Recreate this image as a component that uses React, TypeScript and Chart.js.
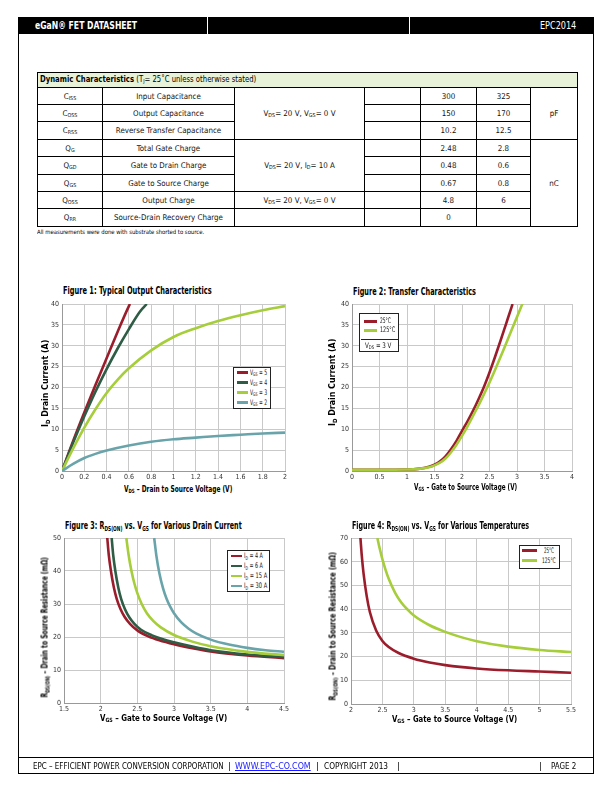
import React, { useEffect, useLayoutEffect, useRef } from "react";
import { Chart, registerables } from "chart.js";
Chart.register(...registerables);

const FONT = "'Liberation Sans Narrow','DejaVu Sans Condensed','Roboto Condensed','Liberation Sans',Arial,sans-serif";
const RED = "#9b1d2c";
const DKGREEN = "#2e5c45";
const LTGREEN = "#a6cd3a";
const TEAL = "#6aa4ab";
const GRID = "#c9c9c9";

// ---------- Table data ----------
const TABLE_SYMBOLS = [["C", "ISS"], ["C", "OSS"], ["C", "RSS"], ["Q", "G"], ["Q", "GD"], ["Q", "GS"], ["Q", "OSS"], ["Q", "RR"]];
const TABLE_PARAMS = ["Input Capacitance", "Output Capacitance", "Reverse Transfer Capacitance", "Total Gate Charge", "Gate to Drain Charge", "Gate to Source Charge", "Output Charge", "Source-Drain Recovery Charge"];
const TABLE_TYP = ["300", "150", "10.2", "2.48", "0.48", "0.67", "4.8", "0"];
const TABLE_MAX = ["325", "170", "12.5", "2.8", "0.6", "0.8", "6", ""];

// ---------- Figure 1: Typical Output Characteristics ----------
const F1_VGS5_VDS = [0, 0.1, 0.2, 0.3, 0.4, 0.5, 0.6, 0.61];
const F1_VGS5_ID = [0, 7.2, 14, 20.6, 27, 33.4, 39.5, 40];
const F1_VGS4_VDS = [0, 0.1, 0.2, 0.3, 0.4, 0.5, 0.6, 0.7, 0.76];
const F1_VGS4_ID = [0, 6.8, 13.1, 19, 24.4, 29.4, 34, 38.2, 40];
const F1_VGS3_VDS = [0, 0.1, 0.2, 0.3, 0.4, 0.5, 0.6, 0.8, 1.0, 1.2, 1.4, 1.6, 1.8, 2.0];
const F1_VGS3_ID = [0, 5.4, 10.4, 14.8, 18.7, 21.9, 24.6, 28.9, 32.1, 34.2, 35.9, 37.3, 38.5, 39.5];
const F1_VGS2_VDS = [0, 0.1, 0.2, 0.3, 0.4, 0.6, 0.8, 1.0, 1.2, 1.4, 1.6, 1.8, 2.0];
const F1_VGS2_ID = [0, 1.7, 3.1, 4.1, 4.9, 6.1, 7.0, 7.6, 8.0, 8.4, 8.7, 9.0, 9.2];

// ---------- Figure 2: Transfer Characteristics ----------
const F2_25C_VGS = [0, 0.5, 1.0, 1.2, 1.4, 1.5, 1.6, 1.7, 1.8, 1.9, 2.0, 2.1, 2.2, 2.3, 2.4, 2.5, 2.6, 2.7, 2.8, 2.9, 2.92];
const F2_25C_ID = [0.3, 0.3, 0.35, 0.5, 1.0, 1.5, 2.3, 3.5, 5.2, 7.2, 9.6, 11.9, 14.4, 17.2, 20.2, 23.6, 27.3, 31.2, 35.2, 39.2, 40];
const F2_125C_VGS = [0, 0.5, 1.0, 1.2, 1.4, 1.5, 1.6, 1.7, 1.8, 1.9, 2.0, 2.1, 2.2, 2.3, 2.4, 2.5, 2.6, 2.7, 2.8, 2.9, 3.0, 3.1];
const F2_125C_ID = [0.3, 0.3, 0.35, 0.5, 0.9, 1.35, 2.0, 3.0, 4.5, 6.3, 8.4, 10.7, 13.2, 15.7, 18.4, 21.2, 24.2, 27.3, 30.5, 33.7, 36.9, 40.1];

// ---------- Figure 3: RDS(ON) vs VGS for various drain current ----------
const F3_4A_VGS = [2.09, 2.11, 2.14, 2.18, 2.22, 2.27, 2.33, 2.4, 2.5, 2.65, 2.8, 3.0, 3.25, 3.5, 4.0, 4.5];
const F3_4A_R = [50, 45, 40, 35, 31.5, 28.5, 26, 24, 22, 20.2, 19, 17.8, 16.6, 15.6, 14.4, 13.6];
const F3_6A_VGS = [2.15, 2.17, 2.2, 2.24, 2.28, 2.33, 2.39, 2.46, 2.55, 2.7, 2.85, 3.0, 3.25, 3.5, 4.0, 4.5];
const F3_6A_R = [50, 45, 40, 35, 31.5, 28.5, 26, 24, 22.2, 20.5, 19.3, 18.4, 17.1, 16, 14.7, 13.9];
const F3_15A_VGS = [2.35, 2.38, 2.42, 2.46, 2.5, 2.56, 2.63, 2.72, 2.82, 3.0, 3.25, 3.5, 4.0, 4.5];
const F3_15A_R = [50, 45, 40, 36.2, 33.3, 30, 27.2, 24.8, 22.9, 20.6, 18.6, 17.2, 15.5, 14.5];
const F3_30A_VGS = [2.73, 2.76, 2.8, 2.85, 2.9, 2.95, 3.0, 3.1, 3.2, 3.3, 3.5, 3.75, 4.0, 4.25, 4.5];
const F3_30A_R = [50, 44.6, 39.4, 34.8, 31.5, 29.1, 27.2, 24.4, 22.5, 21.1, 19.2, 17.7, 16.7, 16.0, 15.5];

// ---------- Figure 4: RDS(ON) vs VGS for various temperatures ----------
const F4_25C_VGS = [2.15, 2.17, 2.2, 2.25, 2.3, 2.4, 2.5, 2.6, 2.75, 3.0, 3.25, 3.5, 4.0, 4.5, 5.0, 5.5];
const F4_25C_R = [70, 63, 55, 45.5, 38.8, 31, 26.6, 24, 21.6, 19.1, 17.5, 16.4, 15, 14.2, 13.7, 13.2];
const F4_125C_VGS = [2.42, 2.45, 2.5, 2.55, 2.6, 2.7, 2.8, 2.9, 3.0, 3.25, 3.5, 3.75, 4.0, 4.5, 5.0, 5.5];
const F4_125C_R = [70, 66.3, 61, 56.6, 52.8, 47, 42.8, 39.8, 37.3, 33.2, 30.4, 28.2, 26.5, 24.2, 22.8, 21.9];

type Series = { xs: number[]; ys: number[]; color: string };

const fmt = (v: any) => String(Math.round(Number(v) * 100) / 100);

function PlotChart(props: {
  left: number; top: number; width: number; height: number;
  xMin: number; xMax: number; xStep: number;
  yMin: number; yMax: number; yStep: number;
  series: Series[];
}) {
  const { left, top, width, height, xMin, xMax, xStep, yMin, yMax, yStep, series } = props;
  const ref = useRef<HTMLCanvasElement>(null);
  const padL = 26, padT = 8, padR = 10, padB = 13;
  const cw = width + padL + padR;
  const ch = height + padT + padB;
  useEffect(() => {
    const chart = new Chart(ref.current as HTMLCanvasElement, {
      type: "line",
      data: {
        datasets: series.map((s) => ({
          data: s.xs.map((x, i) => ({ x, y: s.ys[i] })),
          borderColor: s.color,
          backgroundColor: s.color,
          borderWidth: 2.6,
          pointRadius: 0,
          cubicInterpolationMode: "monotone" as const,
          fill: false,
        })),
      },
      options: {
        animation: false,
        responsive: false,
        maintainAspectRatio: false,
        devicePixelRatio: 1,
        layout: { padding: { top: padT, right: padR, left: 0, bottom: 0 } },
        plugins: { legend: { display: false }, tooltip: { enabled: false }, title: { display: false } },
        scales: {
          x: {
            type: "linear", min: xMin, max: xMax,
            ticks: { stepSize: xStep, font: { family: FONT, size: 7 }, color: "#333", padding: 2, maxRotation: 0, autoSkip: false, callback: fmt },
            grid: { color: GRID, drawTicks: false, lineWidth: 1 },
            border: { color: "#999" },
            afterFit: (s: any) => { s.height = padB; },
          },
          y: {
            type: "linear", min: yMin, max: yMax,
            ticks: { stepSize: yStep, font: { family: FONT, size: 7 }, color: "#333", padding: 3, autoSkip: false, callback: fmt },
            grid: { color: GRID, drawTicks: false, lineWidth: 1 },
            border: { color: "#999" },
            afterFit: (s: any) => { s.width = padL; },
          },
        },
      } as any,
    });
    return () => chart.destroy();
  }, []);
  return (
    <canvas
      ref={ref}
      width={cw}
      height={ch}
      style={{ position: "absolute", left: left - padL, top: top - padT, width: cw, height: ch }}
    />
  );
}

function Fit(props: { w: number; left: number; top: number; size: number; bold?: boolean; rotate?: boolean; color?: string; children: any }) {
  const { w, left, top, size, bold, rotate, color, children } = props;
  const ref = useRef<HTMLSpanElement>(null);
  useLayoutEffect(() => {
    const el = ref.current;
    if (!el) return;
    const sw = el.offsetWidth;
    if (sw > 0) el.style.transform = `scaleX(${w / sw})`;
  });
  const lh = Math.round(size * 1.25);
  const style: any = {
    position: "absolute",
    width: w,
    height: lh,
    lineHeight: lh + "px",
    fontSize: size,
    fontWeight: bold ? 700 : 400,
    whiteSpace: "nowrap",
    color: color || "#000",
    fontFamily: FONT,
  };
  if (rotate) {
    style.left = left - w / 2;
    style.top = top - lh / 2;
    style.transform = "rotate(-90deg)";
    style.transformOrigin = "center center";
  } else {
    style.left = left;
    style.top = top - lh / 2;
  }
  return (
    <div style={style}>
      <span ref={ref} style={{ display: "inline-block", transformOrigin: "left center" }}>{children}</span>
    </div>
  );
}

const Sub = (p: { children: any }) => (
  <span style={{ fontSize: "0.68em", position: "relative", top: "0.3em" }}>{p.children}</span>
);

function LegendLine(p: { x: number; y: number; w: number; color: string }) {
  return <div style={{ position: "absolute", left: p.x, top: p.y - 1.3, width: p.w, height: 2.6, background: p.color }} />;
}

function LegendText(p: { x: number; y: number; w: number; children: any }) {
  return <Fit w={p.w} left={p.x} top={p.y} size={7.6} color="#111">{p.children}</Fit>;
}

function Box(p: { l: number; t: number; w: number; h: number }) {
  return <div style={{ position: "absolute", left: p.l, top: p.t, width: p.w, height: p.h, border: "1px solid #222", boxSizing: "border-box", background: "#fff" }} />;
}

// table grid
const TX = [37, 102, 234, 364, 420, 476, 530, 577];
const TY = [72, 87, 104, 121, 139, 156, 174, 191, 208, 226];

function Cell(p: { c0: number; c1: number; r0: number; r1: number; children?: any; bg?: string; align?: string }) {
  return (
    <div style={{
      position: "absolute", left: TX[p.c0], top: TY[p.r0], width: TX[p.c1] - TX[p.c0] + 1, height: TY[p.r1] - TY[p.r0] + 1,
      border: "1px solid #000", boxSizing: "border-box", background: p.bg || "transparent",
      display: "flex", alignItems: "center", justifyContent: p.align || "center",
      fontSize: 7.9, fontFamily: FONT, whiteSpace: "nowrap", color: "#111",
    }}>{p.children}</div>
  );
}

function DataTable() {
  const cells: any[] = [];
  cells.push(<Cell key="h" c0={0} c1={7} r0={0} r1={1} bg="#e8f2d8" />);
  TABLE_PARAMS.forEach((p, i) => {
    const r = i + 1;
    cells.push(<Cell key={"s" + i} c0={0} c1={1} r0={r} r1={r + 1}>{TABLE_SYMBOLS[i][0]}<Sub>{TABLE_SYMBOLS[i][1]}</Sub></Cell>);
    cells.push(<Cell key={"p" + i} c0={1} c1={2} r0={r} r1={r + 1}>{p}</Cell>);
    cells.push(<Cell key={"m" + i} c0={3} c1={4} r0={r} r1={r + 1} />);
    cells.push(<Cell key={"t" + i} c0={4} c1={5} r0={r} r1={r + 1}>{TABLE_TYP[i]}</Cell>);
    cells.push(<Cell key={"x" + i} c0={5} c1={6} r0={r} r1={r + 1}>{TABLE_MAX[i]}</Cell>);
  });
  cells.push(<Cell key="c1" c0={2} c1={3} r0={1} r1={4}>V<Sub>DS</Sub> = 20 V, V<Sub>GS</Sub> = 0 V</Cell>);
  cells.push(<Cell key="c2" c0={2} c1={3} r0={4} r1={7}>V<Sub>DS</Sub> = 20 V, I<Sub>D</Sub> = 10 A</Cell>);
  cells.push(<Cell key="c3" c0={2} c1={3} r0={7} r1={8}>V<Sub>DS</Sub> = 20 V, V<Sub>GS</Sub> = 0 V</Cell>);
  cells.push(<Cell key="c4" c0={2} c1={3} r0={8} r1={9} />);
  cells.push(<Cell key="u1" c0={6} c1={7} r0={1} r1={4}>pF</Cell>);
  cells.push(<Cell key="u2" c0={6} c1={7} r0={4} r1={9}>nC</Cell>);
  return (
    <>
      {cells}
      <Fit w={216} left={40} top={79.5} size={8}><b>Dynamic Characteristics</b> (T<Sub>J</Sub>= 25˚C unless otherwise stated)</Fit>
    </>
  );
}

export default function App() {
  return (
    <div style={{ position: "absolute", left: 0, top: 0, width: 612, height: 792, background: "#fff", fontFamily: FONT, overflow: "hidden" }}>
      {/* Header */}
      <div style={{ position: "absolute", left: 18, top: 17, width: 576, height: 17, background: "#000" }} />
      <div style={{ position: "absolute", left: 207, top: 17, width: 1, height: 17, background: "#fff" }} />
      <div style={{ position: "absolute", left: 409, top: 17, width: 1, height: 17, background: "#fff" }} />
      <Fit w={102} left={35} top={25.8} size={10.5} bold color="#fff">eGaN® FET DATASHEET</Fit>
      <Fit w={36} left={540} top={25.8} size={10.5} color="#fff">EPC2014</Fit>
      {/* page borders */}
      <div style={{ position: "absolute", left: 18, top: 34, width: 1, height: 739, background: "#000" }} />
      <div style={{ position: "absolute", left: 593, top: 34, width: 1, height: 739, background: "#000" }} />
      <div style={{ position: "absolute", left: 18, top: 757, width: 576, height: 1, background: "#000" }} />
      <div style={{ position: "absolute", left: 18, top: 773, width: 576, height: 1, background: "#000" }} />

      <DataTable />
      <Fit w={167} left={37} top={232} size={6}>All measurements were done with substrate shorted to source.</Fit>

      {/* Figure 1 */}
      <Fit w={149} left={62.7} top={290} size={10} bold>Figure 1: Typical Output Characteristics</Fit>
      <PlotChart left={62} top={304} width={223} height={167} xMin={0} xMax={2} xStep={0.2} yMin={0} yMax={40} yStep={5}
        series={[
          { xs: F1_VGS2_VDS, ys: F1_VGS2_ID, color: TEAL },
          { xs: F1_VGS3_VDS, ys: F1_VGS3_ID, color: LTGREEN },
          { xs: F1_VGS4_VDS, ys: F1_VGS4_ID, color: DKGREEN },
          { xs: F1_VGS5_VDS, ys: F1_VGS5_ID, color: RED },
        ]} />
      <Fit w={87} left={45} top={383} size={8.5} bold rotate>I<Sub>D</Sub> Drain Current (A)</Fit>
      <Fit w={108} left={124} top={489} size={8.5} bold>V<Sub>DS</Sub> – Drain to Source Voltage (V)</Fit>
      <Box l={233.3} t={367.3} w={37.4} h={41.7} />
      <LegendLine x={236.5} y={372.5} w={11} color={RED} />
      <LegendText x={250} y={372.5} w={17.3}>V<Sub>GS</Sub> = 5</LegendText>
      <LegendLine x={236.5} y={382.5} w={11} color={DKGREEN} />
      <LegendText x={250} y={382.5} w={17.3}>V<Sub>GS</Sub> = 4</LegendText>
      <LegendLine x={236.5} y={392.5} w={11} color={LTGREEN} />
      <LegendText x={250} y={392.5} w={17.3}>V<Sub>GS</Sub> = 3</LegendText>
      <LegendLine x={236.5} y={402.5} w={11} color={TEAL} />
      <LegendText x={250} y={402.5} w={17.3}>V<Sub>GS</Sub> = 2</LegendText>

      {/* Figure 2 */}
      <Fit w={123} left={352.7} top={291} size={10} bold>Figure 2: Transfer Characteristics</Fit>
      <PlotChart left={352} top={304} width={220} height={167} xMin={0} xMax={4} xStep={0.5} yMin={0} yMax={40} yStep={5}
        series={[
          { xs: F2_125C_VGS, ys: F2_125C_ID, color: LTGREEN },
          { xs: F2_25C_VGS, ys: F2_25C_ID, color: RED },
        ]} />
      <Fit w={87} left={332.3} top={382} size={8.5} bold rotate>I<Sub>D</Sub> Drain Current (A)</Fit>
      <Fit w={103} left={414} top={487} size={8.5} bold>V<Sub>GS</Sub> – Gate to Source Voltage (V)</Fit>
      <Box l={359.3} t={313.3} w={40} h={39} />
      <LegendLine x={364} y={321.3} w={13} color={RED} />
      <LegendText x={380} y={321.3} w={11}>25°C</LegendText>
      <LegendLine x={364} y={330.3} w={13} color={LTGREEN} />
      <LegendText x={380} y={330.3} w={15}>125°C</LegendText>
      <div style={{ position: "absolute", left: 360.7, top: 338.5, width: 37.5, height: 1, background: "#222" }} />
      <LegendText x={365} y={345.7} w={26}>V<Sub>DS</Sub> = 3 V</LegendText>

      {/* Figure 3 */}
      <Fit w={177} left={65} top={525.5} size={10} bold>Figure 3: R<Sub>DS(ON)</Sub> vs. V<Sub>GS</Sub> for Various Drain Current</Fit>
      <PlotChart left={64} top={538} width={220} height={165} xMin={1.5} xMax={4.5} xStep={0.5} yMin={0} yMax={50} yStep={10}
        series={[
          { xs: F3_30A_VGS, ys: F3_30A_R, color: TEAL },
          { xs: F3_15A_VGS, ys: F3_15A_R, color: LTGREEN },
          { xs: F3_6A_VGS, ys: F3_6A_R, color: DKGREEN },
          { xs: F3_4A_VGS, ys: F3_4A_R, color: RED },
        ]} />
      <Fit w={140} left={45} top={627.5} size={8.5} bold rotate>R<Sub>DS(ON)</Sub> – Drain to Source  Resistance (mΩ)</Fit>
      <Fit w={127} left={100} top={718} size={8.5} bold>V<Sub>GS</Sub> – Gate to Source Voltage (V)</Fit>
      <Box l={227.3} t={550} w={42.7} h={42.3} />
      <LegendLine x={231} y={556} w={11} color={RED} />
      <LegendText x={244} y={556} w={19}>I<Sub>D</Sub> = 4 A</LegendText>
      <LegendLine x={231} y={566} w={11} color={DKGREEN} />
      <LegendText x={244} y={566} w={19}>I<Sub>D</Sub> = 6 A</LegendText>
      <LegendLine x={231} y={576} w={11} color={LTGREEN} />
      <LegendText x={244} y={576} w={23}>I<Sub>D</Sub> = 15 A</LegendText>
      <LegendLine x={231} y={586} w={11} color={TEAL} />
      <LegendText x={244} y={586} w={23}>I<Sub>D</Sub> = 30 A</LegendText>

      {/* Figure 4 */}
      <Fit w={177} left={352} top={525.5} size={10} bold>Figure 4: R<Sub>DS(ON)</Sub> vs. V<Sub>GS</Sub> for Various Temperatures</Fit>
      <PlotChart left={351} top={538} width={220} height={166} xMin={2} xMax={5.5} xStep={0.5} yMin={0} yMax={70} yStep={10}
        series={[
          { xs: F4_125C_VGS, ys: F4_125C_R, color: LTGREEN },
          { xs: F4_25C_VGS, ys: F4_25C_R, color: RED },
        ]} />
      <Fit w={148} left={332.7} top={626} size={8.5} bold rotate>R<Sub>DS(ON)</Sub> – Drain to Source Resistance (mΩ)</Fit>
      <Fit w={125} left={391.7} top={719} size={8.5} bold>V<Sub>GS</Sub> – Gate to Source Voltage (V)</Fit>
      <Box l={519.3} t={545} w={40.7} h={24} />
      <LegendLine x={522} y={550.5} w={15} color={RED} />
      <LegendText x={544} y={550.5} w={10}>25°C</LegendText>
      <LegendLine x={522} y={560.5} w={15} color={LTGREEN} />
      <LegendText x={541.5} y={560.5} w={13.5}>125°C</LegendText>

      {/* Footer */}
      <Fit w={191} left={33} top={765.5} size={9.5}>EPC – EFFICIENT POWER CONVERSION CORPORATION</Fit>
      <Fit w={3} left={228} top={765.5} size={9.5}>|</Fit>
      <Fit w={76} left={235} top={765.5} size={9.5} color="#1a1aff"><span style={{ textDecoration: "underline" }}>WWW.EPC-CO.COM</span></Fit>
      <Fit w={3} left={316} top={765.5} size={9.5}>|</Fit>
      <Fit w={64} left={324} top={765.5} size={9.5}>COPYRIGHT 2013</Fit>
      <Fit w={3} left={397} top={765.5} size={9.5}>|</Fit>
      <Fit w={3} left={539} top={765.5} size={9.5}>|</Fit>
      <Fit w={25} left={551} top={765.5} size={9.5}>PAGE 2</Fit>
    </div>
  );
}
